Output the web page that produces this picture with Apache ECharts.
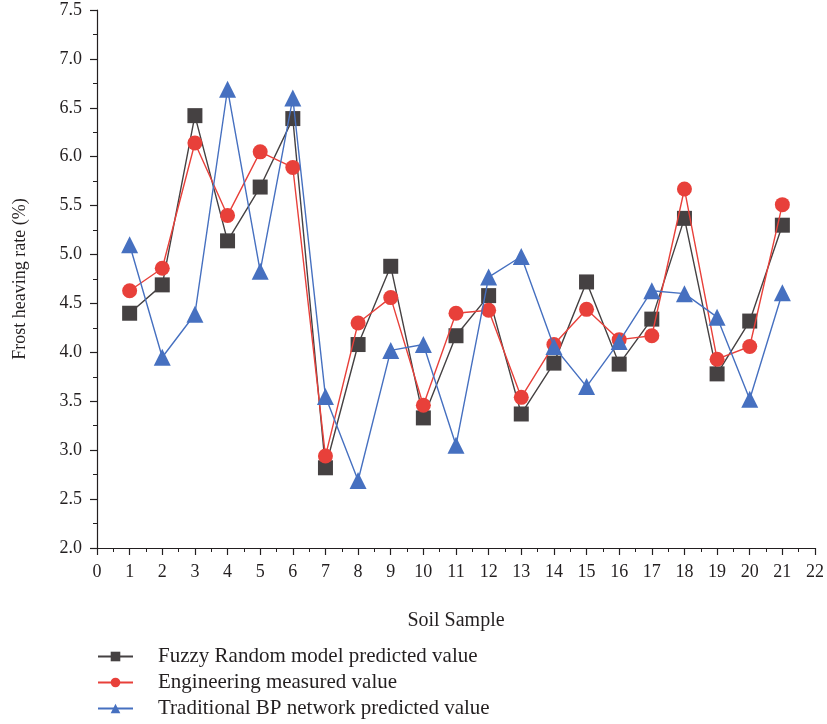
<!DOCTYPE html>
<html>
<head>
<meta charset="utf-8">
<script src="https://cdn.jsdelivr.net/npm/echarts@6/dist/echarts.min.js"></script>
<style>html,body{margin:0;padding:0;background:#fff;}#c{width:827px;height:724px;}</style>
</head>
<body>
<div id="c"></div>
<script>
const samples = [1,2,3,4,5,6,7,8,9,10,11,12,13,14,15,16,17,18,19,20,21];
const fuzzyRandom = [4.40,4.69,6.42,5.14,5.69,6.39,2.82,4.08,4.88,3.33,4.17,4.58,3.37,3.89,4.72,3.88,4.34,5.37,3.78,4.32,5.30];
const measured = [4.63,4.86,6.14,5.40,6.05,5.89,2.94,4.30,4.56,3.46,4.40,4.43,3.54,4.08,4.44,4.13,4.17,5.67,3.93,4.06,5.51];
const bpNetwork = [5.10,3.95,4.39,6.69,4.83,6.60,3.55,2.69,4.02,4.08,3.05,4.77,4.98,4.06,3.65,4.11,4.63,4.60,4.36,3.52,4.61];
const seriesNames = ['Fuzzy Random model predicted value','Engineering measured value','Traditional BP network predicted value'];

const font = 'Liberation Serif';
const chart = echarts.init(document.getElementById('c'));
function pts(arr){ return samples.map((s,i)=>[s,arr[i]]); }
chart.setOption({
  animation:false,
  backgroundColor:'#fff',
  textStyle:{fontFamily:font},
  grid:{left:97,right:12,top:10,bottom:176,containLabel:false},
  xAxis:{
    type:'value',min:0,max:22,interval:1,
    name:'Soil Sample',nameLocation:'middle',nameGap:63,
    nameTextStyle:{fontFamily:font,fontSize:20,color:'#231f20'},
    axisLine:{show:true,onZero:false,lineStyle:{color:'#231f20',width:1.2}},
    axisTick:{show:true,inside:false,length:7,lineStyle:{color:'#231f20',width:1.2}},
    minorTick:{show:true,splitNumber:2,length:4,lineStyle:{color:'#231f20',width:1}},
    axisLabel:{fontFamily:font,fontSize:18,color:'#231f20',margin:15},
    splitLine:{show:false}
  },
  yAxis:{
    type:'value',min:2.0,max:7.5,interval:0.5,
    name:'Frost heaving rate (%)',nameLocation:'middle',nameGap:68,
    nameTextStyle:{fontFamily:font,fontSize:18,color:'#231f20'},
    axisLine:{show:true,lineStyle:{color:'#231f20',width:1.2}},
    axisTick:{show:true,inside:false,length:7,lineStyle:{color:'#231f20',width:1.2}},
    minorTick:{show:true,splitNumber:2,length:4,lineStyle:{color:'#231f20',width:1}},
    axisLabel:{fontFamily:font,fontSize:18,color:'#231f20',margin:15,formatter:v=>v.toFixed(1)},
    splitLine:{show:false}
  },
  legend:{
    orient:'vertical',left:97,top:646,height:90,padding:0,itemWidth:35,itemHeight:12,itemGap:5,
    textStyle:{fontFamily:font,fontSize:21,lineHeight:21,color:'#231f20',padding:[0,0,0,20]},
    data:seriesNames
  },
  series:[
    {name:seriesNames[0],type:'line',data:pts(fuzzyRandom),symbol:'rect',symbolSize:15,
     itemStyle:{color:'#454142'},lineStyle:{color:'#454142',width:1.4},z:3},
    {name:seriesNames[1],type:'line',data:pts(measured),symbol:'circle',symbolSize:15,
     itemStyle:{color:'#e8403a'},lineStyle:{color:'#e8403a',width:1.4},z:4},
    {name:seriesNames[2],type:'line',data:pts(bpNetwork),symbol:'triangle',symbolSize:17,
     itemStyle:{color:'#4670c0'},lineStyle:{color:'#4670c0',width:1.4},z:5}
  ]
});
</script>
</body>
</html>
